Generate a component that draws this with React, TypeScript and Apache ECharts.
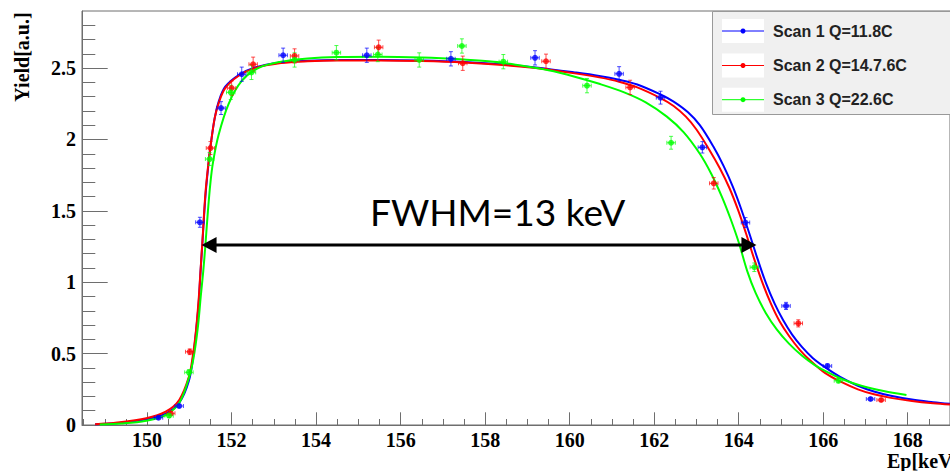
import React, { useEffect, useRef } from "react";
import * as echarts from "echarts";

// Axis ranges and tick positions
const X_MIN = 148.46;
const X_MAX = 169;
const Y_MIN = 0;
const Y_MAX = 2.9;
const xMajorTicks = [150, 152, 154, 156, 158, 160, 162, 164, 166, 168];
const xMinorTicks = [
  148.5, 149, 149.5, 150.5, 151, 151.5, 152.5, 153, 153.5, 154.5, 155, 155.5,
  156.5, 157, 157.5, 158.5, 159, 159.5, 160.5, 161, 161.5, 162.5, 163, 163.5,
  164.5, 165, 165.5, 166.5, 167, 167.5, 168.5,
];
const yMajorTicks = [0, 0.5, 1, 1.5, 2, 2.5];
const yMinorTicks = [
  0.1, 0.2, 0.3, 0.4, 0.6, 0.7, 0.8, 0.9, 1.1, 1.2, 1.3, 1.4, 1.6, 1.7, 1.8,
  1.9, 2.1, 2.2, 2.3, 2.4, 2.6, 2.7, 2.8,
];

// Scan 1, Q = 11.8 C
const scan1Energy = [150.27, 150.76, 151.25, 151.75, 152.24, 153.22, 155.2, 157.19, 159.18, 161.17, 162.15, 163.14, 164.16, 165.12, 166.1, 167.12];
const scan1Yield = [0.051, 0.133, 1.42, 2.22, 2.457, 2.59, 2.59, 2.565, 2.572, 2.46, 2.293, 1.945, 1.418, 0.834, 0.413, 0.182];
const scan1Err = [0.01, 0.012, 0.035, 0.045, 0.05, 0.05, 0.05, 0.05, 0.05, 0.05, 0.045, 0.04, 0.035, 0.025, 0.015, 0.01];

// Scan 2, Q = 14.7.6 C
const scan2Energy = [150.56, 151.01, 151.5, 152.0, 152.51, 153.49, 155.48, 157.47, 159.44, 161.43, 163.41, 165.41, 167.37];
const scan2Yield = [0.082, 0.513, 1.94, 2.36, 2.527, 2.585, 2.646, 2.534, 2.548, 2.365, 1.693, 0.712, 0.175];
const scan2Err = [0.012, 0.02, 0.045, 0.05, 0.05, 0.05, 0.05, 0.05, 0.05, 0.05, 0.04, 0.025, 0.01];

// Scan 3, Q = 22.6 C
const scan3Energy = [150.52, 150.99, 151.48, 151.98, 152.47, 153.49, 154.48, 155.46, 156.44, 157.45, 158.43, 160.41, 162.4, 164.37, 166.36];
const scan3Yield = [0.065, 0.369, 1.863, 2.33, 2.47, 2.557, 2.608, 2.595, 2.557, 2.655, 2.545, 2.377, 1.977, 1.105, 0.31];
const scan3Err = [0.012, 0.018, 0.045, 0.05, 0.05, 0.05, 0.05, 0.05, 0.05, 0.05, 0.05, 0.05, 0.045, 0.03, 0.015];

// Energy half-width of every point
const ENERGY_ERR = 0.1;

// Fitted yield curves [Ep, yield]
const fit1: [number, number][] = [
  [148.77, 0.005], [149.25, 0.012], [149.98, 0.04], [150.44, 0.08], [150.76, 0.155],
  [150.99, 0.31], [151.1, 0.5], [151.16, 0.66], [151.22, 0.85], [151.26, 1.05],
  [151.31, 1.28], [151.38, 1.6], [151.45, 1.82], [151.5, 1.95], [151.6, 2.15],
  [151.7, 2.27], [151.85, 2.37], [152.16, 2.45], [152.55, 2.505], [153.17, 2.54],
  [153.8, 2.552], [154.5, 2.557], [155.5, 2.557], [156.5, 2.553], [157.5, 2.543],
  [158.5, 2.525], [159.2, 2.505], [160.12, 2.47], [160.7, 2.445], [161.17, 2.418],
  [161.6, 2.385], [162.15, 2.315], [162.46, 2.265], [162.8, 2.19], [163.08, 2.1],
  [163.4, 1.95], [163.65, 1.81], [163.86, 1.67], [164.05, 1.52], [164.25, 1.343],
  [164.45, 1.16], [164.65, 0.99], [164.85, 0.85], [165.05, 0.735], [165.26, 0.635],
  [165.5, 0.545], [165.75, 0.47], [166.04, 0.405], [166.4, 0.337], [166.82, 0.275],
  [167.2, 0.235], [167.6, 0.205], [168.1, 0.178], [168.6, 0.16], [169, 0.148],
];
const fit2: [number, number][] = [
  [148.77, 0.006], [149.25, 0.016], [149.98, 0.047], [150.44, 0.093], [150.76, 0.175],
  [150.99, 0.338], [151.08, 0.48], [151.15, 0.64], [151.22, 0.876], [151.26, 1.06],
  [151.31, 1.29], [151.38, 1.62], [151.45, 1.83], [151.5, 1.95], [151.6, 2.15],
  [151.7, 2.26], [151.85, 2.36], [152.16, 2.445], [152.55, 2.5], [153.17, 2.535],
  [153.8, 2.548], [154.5, 2.553], [155.5, 2.553], [156.5, 2.549], [157.5, 2.539],
  [158.5, 2.52], [159.2, 2.5], [160.12, 2.463], [160.7, 2.435], [161.17, 2.405],
  [161.6, 2.365], [162.15, 2.29], [162.46, 2.235], [162.75, 2.16], [163.0, 2.07],
  [163.3, 1.93], [163.55, 1.8], [163.78, 1.66], [163.98, 1.51], [164.17, 1.345],
  [164.37, 1.16], [164.57, 0.99], [164.77, 0.845], [164.97, 0.725], [165.2, 0.62],
  [165.45, 0.525], [165.7, 0.45], [166.04, 0.365], [166.4, 0.305], [166.82, 0.25],
  [167.2, 0.215], [167.6, 0.19], [168.1, 0.168], [168.6, 0.152], [169, 0.143],
];
const fit3: [number, number][] = [
  [148.88, 0.003], [149.4, 0.01], [149.98, 0.03], [150.44, 0.07], [150.76, 0.154],
  [150.99, 0.33], [151.1, 0.47], [151.2, 0.68], [151.27, 0.9], [151.33, 1.08],
  [151.38, 1.26], [151.44, 1.5], [151.5, 1.7], [151.56, 1.84], [151.69, 2.03],
  [151.93, 2.25], [152.24, 2.41], [152.63, 2.5], [153.17, 2.545], [153.8, 2.568],
  [154.5, 2.578], [155.5, 2.58], [156.5, 2.574], [157.5, 2.56], [158.2, 2.545],
  [158.8, 2.52], [159.5, 2.485], [160.12, 2.44], [160.7, 2.39], [161.29, 2.33],
  [161.8, 2.26], [162.3, 2.16], [162.7, 2.05], [163.08, 1.9], [163.35, 1.76],
  [163.6, 1.6], [163.8, 1.45], [164.0, 1.28], [164.2, 1.08], [164.4, 0.925],
  [164.64, 0.785], [164.9, 0.67], [165.19, 0.57], [165.5, 0.485], [165.8, 0.42],
  [166.1, 0.37], [166.5, 0.315], [166.9, 0.275], [167.4, 0.24], [167.97, 0.21],
];

// FWHM marker: [left edge, half maximum, right edge]
const fwhmMarker = [[151.29, 1.26, 164.42]];
const fwhmText = "FWHM=13 keV";

const legendLabels = ["Scan 1 Q=11.8C", "Scan 2 Q=14.7.6C", "Scan 3 Q=22.6C"];
const scanColors = ["#0000ff", "#ff0000", "#00ff00"];

const AXIS_COLOR = "#6e6e6e";
const TICK_FONT = {
  fontFamily: "Liberation Serif",
  fontWeight: "bold" as const,
  fontSize: 20,
  color: "#000",
};

function errorBars(color: string) {
  return (_params: any, api: any) => {
    const x = api.value(0);
    const y = api.value(1);
    const ex = api.value(2);
    const ey = api.value(3);
    const l = api.coord([x - ex, y]);
    const r = api.coord([x + ex, y]);
    const t = api.coord([x, y + ey]);
    const b = api.coord([x, y - ey]);
    const cap = 2;
    const style = { stroke: color, lineWidth: 1, opacity: 0.7 };
    const seg = (x1: number, y1: number, x2: number, y2: number) => ({
      type: "line",
      shape: { x1, y1, x2, y2 },
      style,
    });
    return {
      type: "group",
      children: [
        seg(l[0], l[1], r[0], r[1]),
        seg(t[0], t[1], b[0], b[1]),
        seg(l[0], l[1] - cap, l[0], l[1] + cap),
        seg(r[0], r[1] - cap, r[0], r[1] + cap),
        seg(t[0] - cap, t[1], t[0] + cap, t[1]),
        seg(b[0] - cap, b[1], b[0] + cap, b[1]),
      ],
    };
  };
}

function fwhmArrow(_params: any, api: any) {
  const p1 = api.coord([api.value(0), api.value(1)]);
  const p2 = api.coord([api.value(2), api.value(1)]);
  const head = 15;
  const half = 8;
  const y = p1[1];
  return {
    type: "group",
    children: [
      {
        type: "line",
        shape: { x1: p1[0] + head - 1, y1: y, x2: p2[0] - head + 1, y2: y },
        style: { stroke: "#000", lineWidth: 3 },
      },
      {
        type: "polygon",
        shape: { points: [[p1[0], y], [p1[0] + head, y - half], [p1[0] + head, y + half]] },
        style: { fill: "#000" },
      },
      {
        type: "polygon",
        shape: { points: [[p2[0], y], [p2[0] - head, y - half], [p2[0] - head, y + half]] },
        style: { fill: "#000" },
      },
    ],
  };
}

export default function App() {
  const ref = useRef<HTMLDivElement>(null);

  useEffect(() => {
    if (!ref.current) return;
    const chart = echarts.init(ref.current, undefined, { renderer: "svg" });

    const scans = [
      { e: scan1Energy, y: scan1Yield, err: scan1Err },
      { e: scan2Energy, y: scan2Yield, err: scan2Err },
      { e: scan3Energy, y: scan3Yield, err: scan3Err },
    ];
    const fits = [fit1, fit2, fit3];

    const fitSeries = fits.map((f, i) => ({
      type: "line",
      name: legendLabels[i] + " fit",
      data: f,
      showSymbol: false,
      smooth: 0.35,
      lineStyle: { color: scanColors[i], width: 2, join: "round" },
      z: 2 + i,
      silent: true,
    }));

    const barSeries = scans.map((s, i) => ({
      type: "custom",
      name: legendLabels[i] + " errors",
      data: s.e.map((e, k) => [e, s.y[k], ENERGY_ERR, s.err[k]]),
      encode: { x: 0, y: 1 },
      renderItem: errorBars(scanColors[i]),
      z: 6,
      silent: true,
    }));

    const pointSeries = scans.map((s, i) => ({
      type: "scatter",
      name: legendLabels[i],
      data: s.e.map((e, k) => [e, s.y[k]]),
      symbol: "circle",
      symbolSize: 6,
      itemStyle: { color: scanColors[i] },
      z: 7,
      silent: true,
    }));

    const legendRows = [31, 65.5, 99.7];
    const legendGraphics: any[] = [
      {
        type: "rect",
        shape: { x: 712.5, y: 11.5, width: 260, height: 103 },
        style: { fill: "#f0f0f0", stroke: "#999", lineWidth: 1 },
        z: 100,
      },
    ];
    legendRows.forEach((ry, i) => {
      legendGraphics.push(
        {
          type: "rect",
          shape: { x: 722, y: ry - 12, width: 42, height: 24 },
          style: { fill: "#fff" },
          z: 101,
        },
        {
          type: "line",
          shape: { x1: 722, y1: ry, x2: 764, y2: ry },
          style: { stroke: scanColors[i], lineWidth: 1 },
          z: 102,
        },
        {
          type: "circle",
          shape: { cx: 743, cy: ry, r: 2.5 },
          style: { fill: scanColors[i] },
          z: 103,
        },
        {
          type: "text",
          x: 773,
          y: ry,
          style: {
            text: legendLabels[i],
            fontFamily: "Liberation Sans",
            fontWeight: "bold",
            fontSize: 16,
            fill: "#222",
            verticalAlign: "middle",
          },
          z: 103,
        }
      );
    });

    chart.setOption({
      animation: false,
      backgroundColor: "#fff",
      grid: {
        left: 82,
        top: 11,
        width: 878,
        height: 414,
        show: true,
        borderColor: AXIS_COLOR,
        borderWidth: 1,
      },
      xAxis: [
        {
          type: "value",
          min: X_MIN,
          max: X_MAX,
          position: "bottom",
          axisLine: { show: true, lineStyle: { color: AXIS_COLOR, width: 1 } },
          axisTick: {
            show: true,
            inside: true,
            length: 12.7,
            customValues: xMajorTicks,
            lineStyle: { color: AXIS_COLOR, width: 1 },
          },
          axisLabel: { ...TICK_FONT, margin: 5, customValues: xMajorTicks },
          splitLine: { show: false },
        },
        {
          type: "value",
          min: X_MIN,
          max: X_MAX,
          position: "bottom",
          axisLine: { show: false },
          axisTick: {
            show: true,
            inside: true,
            length: 6,
            customValues: xMinorTicks,
            lineStyle: { color: AXIS_COLOR, width: 1 },
          },
          axisLabel: { show: false },
          splitLine: { show: false },
        },
      ],
      yAxis: [
        {
          type: "value",
          min: Y_MIN,
          max: Y_MAX,
          position: "left",
          axisLine: { show: true, lineStyle: { color: AXIS_COLOR, width: 1 } },
          axisTick: {
            show: true,
            inside: true,
            length: 25.7,
            customValues: yMajorTicks,
            lineStyle: { color: AXIS_COLOR, width: 1 },
          },
          axisLabel: { ...TICK_FONT, margin: 6, customValues: yMajorTicks },
          splitLine: { show: false },
        },
        {
          type: "value",
          min: Y_MIN,
          max: Y_MAX,
          position: "left",
          axisLine: { show: false },
          axisTick: {
            show: true,
            inside: true,
            length: 13.3,
            customValues: yMinorTicks,
            lineStyle: { color: AXIS_COLOR, width: 1 },
          },
          axisLabel: { show: false },
          splitLine: { show: false },
        },
      ],
      series: [
        ...fitSeries,
        ...barSeries,
        ...pointSeries,
        {
          type: "custom",
          name: "FWHM",
          data: fwhmMarker,
          encode: { x: [0, 2], y: 1 },
          renderItem: fwhmArrow,
          z: 20,
          silent: true,
        },
      ],
      graphic: [
        {
          type: "text",
          x: 22,
          y: 57,
          rotation: Math.PI / 2,
          style: {
            text: "Yield[a.u.]",
            fontFamily: "Liberation Serif",
            fontWeight: "bold",
            fontSize: 20,
            fill: "#000",
            align: "center",
            verticalAlign: "middle",
          },
        },
        {
          type: "text",
          x: 887,
          y: 461,
          style: {
            text: "Ep[keV]",
            fontFamily: "Liberation Serif",
            fontWeight: "bold",
            fontSize: 20,
            fill: "#000",
            verticalAlign: "middle",
          },
        },
        {
          type: "text",
          x: 370,
          y: 211,
          style: {
            text: fwhmText,
            fontFamily: "Lato",
            fontSize: 37,
            fill: "#000",
            verticalAlign: "middle",
          },
          z: 50,
        },
        ...legendGraphics,
      ],
    });

    return () => chart.dispose();
  }, []);

  return (
    <div
      ref={ref}
      style={{ position: "fixed", left: 0, top: 0, width: 950, height: 471 }}
    />
  );
}
